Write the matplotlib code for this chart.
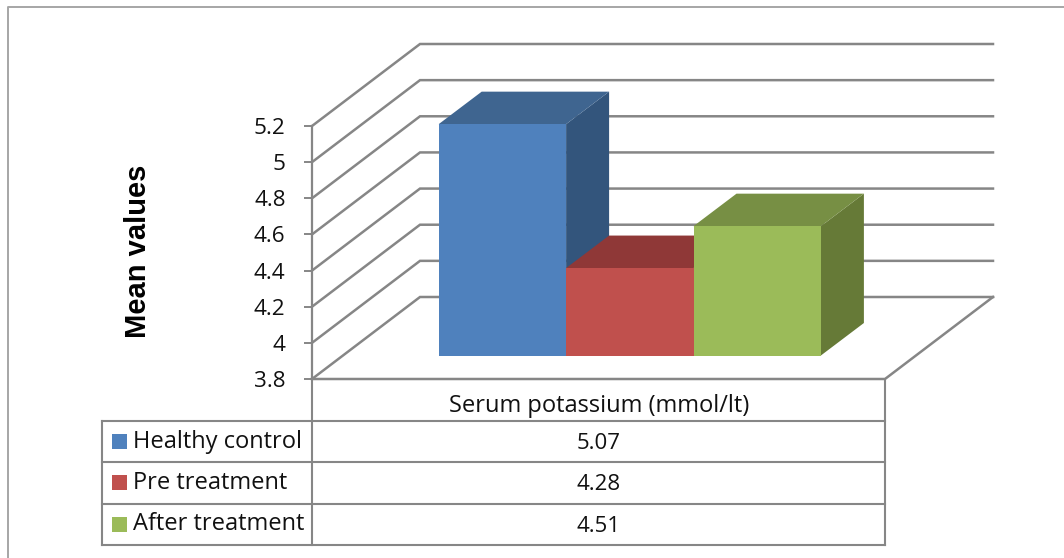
import matplotlib
matplotlib.use('Agg')
import matplotlib.pyplot as plt
from matplotlib.patches import Polygon

# Values from the chart's data table
groups = ['Healthy control', 'Pre treatment', 'After treatment']
values = [5.07, 4.28, 4.51]
category = 'Serum potassium (mmol/lt)'
y_ticks = [3.8, 4, 4.2, 4.4, 4.6, 4.8, 5, 5.2]
y_tick_labels = ['3.8', '4', '4.2', '4.4', '4.6', '4.8', '5', '5.2']

front_colors = ['#4F81BD', '#C0504D', '#9BBB59']
top_colors = ['#3F6590', '#8F3837', '#778F44']
side_colors = ['#33557C', '#8F3837', '#667A37']

W, H = 1064, 558
GRID = '#868686'
FONT = 'Open Sans'

fig = plt.figure(figsize=(W / 100, H / 100), dpi=100)

# Overlay in pixel coordinates for the frame and the data table
page = fig.add_axes([0, 0, 1, 1])
page.set_xlim(0, W)
page.set_ylim(H, 0)
page.axis('off')

page.plot([8, 8, W], [H, 7, 7], color='#A6A6A6', lw=1.4)

# Main axes sits on the front plane of the 3D box, x runs in pixels
x0, x1, y_bottom, y_top = 312, 885, 379, 126
ax = fig.add_axes([x0 / W, 1 - y_bottom / H, (x1 - x0) / W, (y_bottom - y_top) / H])
ax.patch.set_visible(False)
ax.set_xlim(x0, x1)
ax.set_ylim(3.8, 5.2)
units_per_px = 1.4 / (y_bottom - y_top)

for s in ['top', 'right', 'bottom']:
    ax.spines[s].set_visible(False)
ax.spines['left'].set_color(GRID)
ax.spines['left'].set_linewidth(1.6)
ax.set_xticks([])
ax.set_yticks(y_ticks)
ax.set_yticklabels(y_tick_labels, fontsize=16.2, family=FONT, color='#111111')
ax.tick_params(axis='y', length=6, width=1.4, color=GRID, pad=13)
ax.set_ylabel('Mean values', fontsize=21, fontweight='bold', family='Liberation Sans', labelpad=0)
ax.yaxis.set_label_coords((152 - x0) / (x1 - x0), 0.506)

# Back wall and floor
back_dx, back_dy = 108, 82 * units_per_px
right_end = 993
for t in y_ticks:
    ax.plot([x0, x0 + back_dx, right_end], [t, t + back_dy, t + back_dy], color=GRID, lw=1.8,
            clip_on=False, zorder=1, solid_joinstyle='miter')
ax.plot([x0, x1, right_end], [3.8, 3.8, 3.8 + back_dy], color=GRID, lw=1.8, clip_on=False, zorder=1)

# Bars, the bar plane lies a bit behind the front of the box
bar_left = 438.7
bar_width = 127.4
lift = 23.5 * units_per_px
stretch = 1.008
depth_dx, depth_dy = 43, 32.5 * units_per_px
base = 3.8 + lift
z = 2
for i, v in enumerate(values):
    left = bar_left + i * bar_width
    right = left + bar_width
    top = base + (v - 3.8) * stretch
    ax.add_patch(Polygon([(right, base), (right + depth_dx, base + depth_dy),
                          (right + depth_dx, top + depth_dy), (right, top)],
                         closed=True, fc=side_colors[i], ec='none', clip_on=False, zorder=z))
    ax.add_patch(Polygon([(left, top), (left + depth_dx, top + depth_dy),
                          (right + depth_dx, top + depth_dy), (right, top)],
                         closed=True, fc=top_colors[i], ec='none', clip_on=False, zorder=z + 0.1))
    ax.bar(left, top - base, width=bar_width, bottom=base, align='edge',
           color=front_colors[i], clip_on=False, zorder=z + 0.2)
    z += 1

# Data table below the plot
tx0, tx1, tx2 = 102, 312, 885
rows = [421, 462, 504, 545]
line = dict(color=GRID, lw=1.5, solid_capstyle='projecting')
for r in rows:
    page.plot([tx0, tx2], [r, r], **line)
page.plot([tx0, tx0], [rows[0], rows[-1]], **line)
page.plot([tx1, tx1], [379, rows[-1]], **line)
page.plot([tx2, tx2], [379, rows[-1]], **line)

text_size = 17
page.text((tx1 + tx2) / 2 + 0.5, 406, category, ha='center', va='center', fontsize=text_size,
          family=FONT, color='#111111')
for i, g in enumerate(groups):
    yc = (rows[i] + rows[i + 1]) / 2
    page.add_patch(plt.Rectangle((112, yc - 8), 15, 15, fc=front_colors[i], ec='none'))
    page.text(133, yc, g, ha='left', va='center', fontsize=text_size, family=FONT, color='#111111')
    page.text((tx1 + tx2) / 2, yc + 2, f'{values[i]:.2f}', ha='center', va='center',
              fontsize=16, family=FONT, color='#111111')

fig.savefig('out.png', dpi=100)
